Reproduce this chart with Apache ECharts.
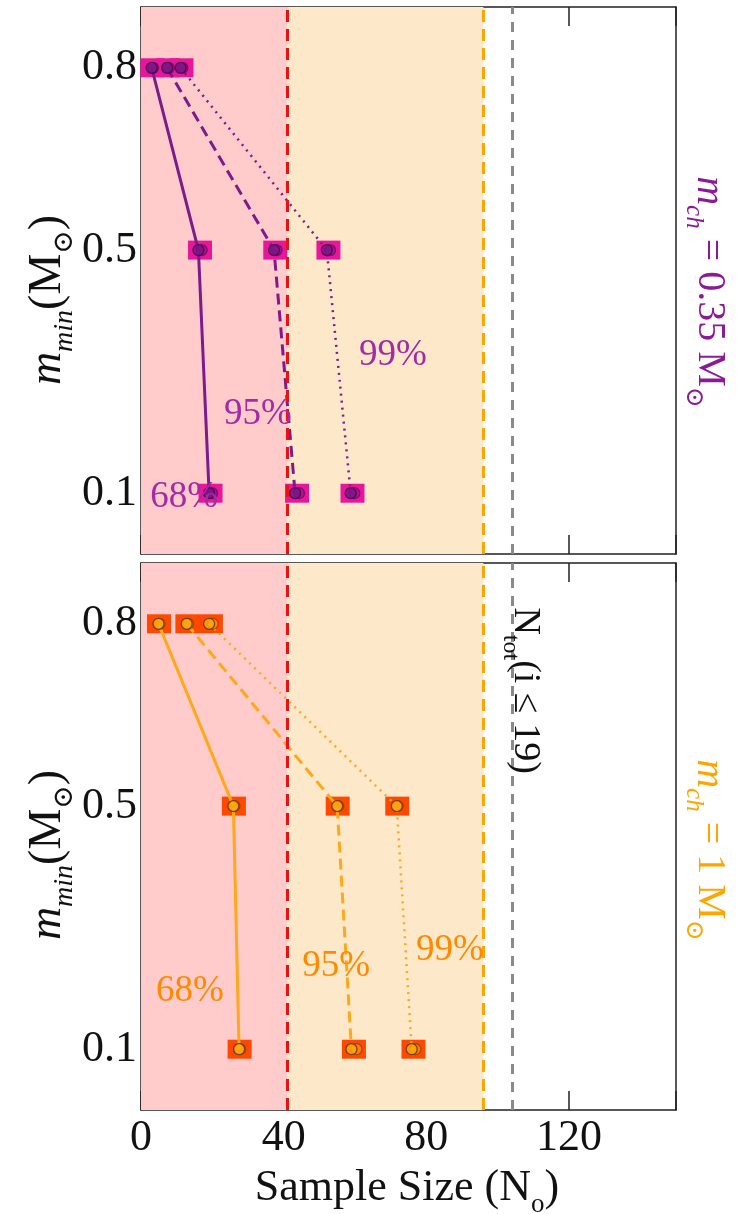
<!DOCTYPE html>
<html>
<head>
<meta charset="utf-8">
<style>
  html, body { margin: 0; padding: 0; background: #fff; }
  #main { width: 739px; height: 1214px; }
</style>
<script src="https://cdn.jsdelivr.net/npm/echarts@6/dist/echarts.min.js"></script>
</head>
<body>
<div id="main"></div>
<script>
// minimum-mass levels (y values) shared by both panels
const levels = [0.8, 0.5, 0.1];
const xTicks = [0, 40, 80, 120];
const yTicks = [0.1, 0.5, 0.8];

// panel 1: m_ch = 0.35 Msun, required sample size per confidence level
const top68 = [3.0, 16.1, 19.1];
const top95 = [7.3, 37.3, 43.2];
const top99 = [11.1, 52.1, 58.8];
// repeat runs (drawn as faint rings behind the main points)
const top68b = [3.4, 17.0, 19.9];
const top95b = [7.8, 38.0, 44.3];
const top99b = [11.6, 53.0, 59.8];

// panel 2: m_ch = 1 Msun
const bot68 = [4.9, 25.9, 27.5];
const bot95 = [12.8, 55.0, 59.0];
const bot99 = [19.1, 71.7, 75.9];
const bot68b = [5.2, 26.2, 27.8];
const bot95b = [13.2, 55.3, 60.4];
const bot99b = [20.1, 72.0, 76.9];

// reference sample sizes (vertical dashed lines)
const limit68 = 41;
const limit95 = 96;
const nTotal = 104;

const FONT = "'Liberation Serif', 'DejaVu Serif', serif";

const panels = [
  { main: [top68, top95, top99], ghost: [top68b, top95b, top99b],
    line: '#7d1a8c', dot: '#7a1585', ring: '#3b0a45', box: '#e8169a', text: '#a52aa5' },
  { main: [bot68, bot95, bot99], ghost: [bot68b, bot95b, bot99b],
    line: '#ffa81a', dot: '#ffaa10', ring: '#5a3400', box: '#ff4800', text: '#ff8a00' }
];
const styles = [
  { type: 'solid', width: 3 },
  { type: [11, 6], width: 3 },
  { type: [2, 5], width: 2.5 }
];

const grids = [
  { left: 141, width: 535, top: 7, height: 547 },
  { left: 141, width: 535, top: 563, height: 547 }
];

const frameLine = { show: true, onZero: false, lineStyle: { color: '#222', width: 1.5 } };

const xAxes = [], yAxes = [], series = [];
grids.forEach((g, gi) => {
  const showLabels = gi === 1;
  xAxes.push({
    gridIndex: gi, type: 'value', min: 0, max: 150, interval: 40, position: 'bottom',
    axisLine: frameLine,
    axisTick: { show: true, inside: true, length: 19, lineStyle: { color: '#222', width: 1.5 } },
    axisLabel: { show: showLabels, fontFamily: FONT, fontSize: 44, color: '#111', margin: 6,
      customValues: xTicks },
    splitLine: { show: false }
  });
  xAxes.push({
    gridIndex: gi, type: 'value', min: 0, max: 150, interval: 40, position: 'top',
    axisLine: frameLine,
    axisTick: { show: true, inside: true, length: 19, lineStyle: { color: '#222', width: 1.5 } },
    axisLabel: { show: false }, splitLine: { show: false }
  });
  yAxes.push({
    gridIndex: gi, type: 'value', min: 0, max: 0.9, position: 'left',
    axisLine: frameLine,
    axisTick: { show: true, inside: true, length: 19, customValues: yTicks,
      lineStyle: { color: '#222', width: 1.5 } },
    axisLabel: { show: true, customValues: yTicks, fontFamily: FONT, fontSize: 44, color: '#111',
      margin: 4, formatter: v => v.toFixed(1) },
    splitLine: { show: false }
  });
  yAxes.push({
    gridIndex: gi, type: 'value', min: 0, max: 0.9, position: 'right',
    axisLine: frameLine,
    axisTick: { show: false }, axisLabel: { show: false }, splitLine: { show: false }
  });
  const xi = gi * 2, yi = gi * 2;

  // shaded sample-size ranges
  series.push({
    type: 'scatter', xAxisIndex: xi, yAxisIndex: yi, data: [], z: 1, silent: true,
    markArea: {
      silent: true,
      data: [
        [{ xAxis: 0, itemStyle: { color: '#ffcbcb' } }, { xAxis: limit68 }],
        [{ xAxis: limit68, itemStyle: { color: '#fde9c9' } }, { xAxis: limit95 }]
      ]
    }
  });
  // reference lines
  series.push({
    type: 'scatter', xAxisIndex: xi, yAxisIndex: yi, data: [], z: 3, silent: true,
    markLine: {
      silent: true, symbol: 'none', label: { show: false },
      data: [
        { xAxis: limit68, lineStyle: { color: '#ee1111', width: 3, type: [12, 7] } },
        { xAxis: limit95, lineStyle: { color: '#ffa500', width: 3, type: [12, 7] } },
        { xAxis: nTotal, lineStyle: { color: '#8a8a8a', width: 3, type: [10, 8] } }
      ]
    }
  });

  const p = panels[gi];
  p.main.forEach((vals, si) => {
    const ghost = p.ghost[si];
    // background boxes
    series.push({
      type: 'scatter', xAxisIndex: xi, yAxisIndex: yi, z: 2, silent: true,
      symbol: 'rect', symbolSize: [24, 19],
      itemStyle: { color: p.box, opacity: 1 },
      data: vals.map((v, i) => [(v + ghost[i]) / 2, levels[i]])
    });
    // connecting line
    series.push({
      type: 'line', xAxisIndex: xi, yAxisIndex: yi, z: 4, silent: true,
      symbol: 'none',
      lineStyle: { color: p.line, width: styles[si].width, type: styles[si].type },
      data: vals.map((v, i) => [v, levels[i]])
    });
    // repeat-run rings
    series.push({
      type: 'scatter', xAxisIndex: xi, yAxisIndex: yi, z: 5, silent: true,
      symbol: 'circle', symbolSize: 11,
      itemStyle: { color: p.dot, opacity: 0.55, borderColor: p.ring, borderWidth: 1.3 },
      data: ghost.map((v, i) => [v, levels[i]])
    });
    // main points
    series.push({
      type: 'scatter', xAxisIndex: xi, yAxisIndex: yi, z: 6, silent: true,
      symbol: 'circle', symbolSize: 11,
      itemStyle: { color: p.dot, borderColor: p.ring, borderWidth: 1.3 },
      data: vals.map((v, i) => [v, levels[i]])
    });
  });
});

const chart = echarts.init(document.getElementById('main'), null, { renderer: 'canvas' });
chart.setOption({
  animation: false,
  backgroundColor: '#fff',
  grid: grids,
  xAxis: xAxes,
  yAxis: yAxes,
  series: series
});

// confidence-level annotations, placed in data coordinates
const pctLabels = [
  { g: 0, text: '68%', at: [12.1, 0.093] },
  { g: 0, text: '95%', at: [32.8, 0.23] },
  { g: 0, text: '99%', at: [70.6, 0.327] },
  { g: 1, text: '68%', at: [13.7, 0.195] },
  { g: 1, text: '95%', at: [54.7, 0.237] },
  { g: 1, text: '99%', at: [86.6, 0.263] }
];

const graphics = [];
pctLabels.forEach(l => {
  const [px, py] = chart.convertToPixel({ gridIndex: l.g }, l.at);
  graphics.push({
    type: 'text', x: px, y: py, z: 50,
    style: { text: l.text, fill: panels[l.g].text, font: '37px ' + FONT,
      textAlign: 'center', textVerticalAlign: 'middle' }
  });
});

const subRich = (color, size, subSize) => ({
  it: { fontFamily: FONT, fontStyle: 'italic', fontSize: size, fill: color, color: color },
  rm: { fontFamily: FONT, fontSize: size, fill: color, color: color },
  sub: { fontFamily: FONT, fontStyle: 'italic', fontSize: subSize, fill: color, color: color,
    verticalAlign: 'bottom', lineHeight: size + 16 },
  subr: { fontFamily: FONT, fontSize: subSize, fill: color, color: color,
    verticalAlign: 'bottom', lineHeight: size + 16 }
});

// y-axis titles
[300, 855].forEach(cy => {
  graphics.push({
    type: 'text', x: 48, y: cy, rotation: Math.PI / 2, z: 50,
    style: {
      text: '{it|m}{sub|min}{rm|(M}{subr|⊙}{rm|)}',
      rich: subRich('#111', 46, 28),
      textAlign: 'center', textVerticalAlign: 'middle'
    }
  });
});

// panel titles on the right
graphics.push({
  type: 'text', x: 709, y: 292, rotation: -Math.PI / 2, z: 50,
  style: {
    text: '{it|m}{sub|ch}{rm| = 0.35 M}{subr|⊙}',
    rich: subRich('#8a1a96', 40, 25),
    textAlign: 'center', textVerticalAlign: 'middle'
  }
});
graphics.push({
  type: 'text', x: 709, y: 850, rotation: -Math.PI / 2, z: 50,
  style: {
    text: '{it|m}{sub|ch}{rm| = 1 M}{subr|⊙}',
    rich: subRich('#ffa500', 40, 25),
    textAlign: 'center', textVerticalAlign: 'middle'
  }
});

// total sample annotation beside the grey line
{
  const [px, py] = chart.convertToPixel({ gridIndex: 1 }, [107.7, 0.69]);
  graphics.push({
    type: 'text', x: px, y: py, rotation: -Math.PI / 2, z: 50,
    style: {
      text: '{rm|N}{subr|tot}{rm|(i ≤ 19)}',
      rich: subRich('#111', 38, 24),
      textAlign: 'center', textVerticalAlign: 'middle'
    }
  });
}

// x-axis title
graphics.push({
  type: 'text', x: 407, y: 1188, z: 50,
  style: {
    text: '{rm|Sample Size (N}{subr|o}{rm|)}',
    rich: subRich('#111', 44, 27),
    textAlign: 'center', textVerticalAlign: 'middle'
  }
});

chart.setOption({ graphic: graphics });
</script>
</body>
</html>
